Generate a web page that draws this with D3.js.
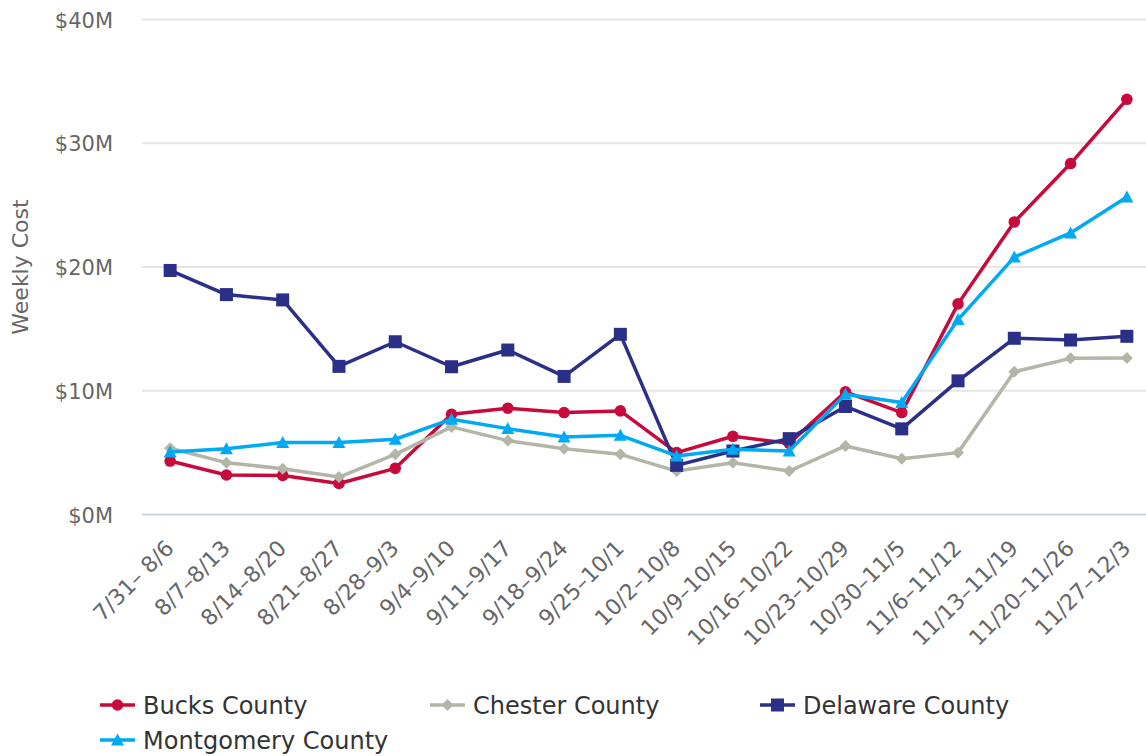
<!DOCTYPE html>
<html>
<head>
<meta charset="utf-8">
<script src="https://cdn.jsdelivr.net/npm/d3@7"></script>
<style>
  html, body { margin: 0; padding: 0; background: #fff; }
  svg { display: block; font-family: "DejaVu Sans", sans-serif; }
</style>
</head>
<body>
<svg id="chart" width="1146" height="756"></svg>
<script>
const categories = ["7/31– 8/6","8/7–8/13","8/14–8/20","8/21–8/27","8/28–9/3","9/4–9/10","9/11–9/17","9/18–9/24","9/25–10/1","10/2–10/8","10/9–10/15","10/16–10/22","10/23–10/29","10/30–11/5","11/6–11/12","11/13–11/19","11/20–11/26","11/27–12/3"];
const bucks      = [4.32,3.19,3.16,2.51,3.73,8.10,8.59,8.24,8.37,5.00,6.32,5.75,9.91,8.24,17.02,23.64,28.36,33.55];
const chester    = [5.35,4.19,3.70,3.03,4.86,7.08,5.97,5.32,4.86,3.51,4.19,3.51,5.54,4.51,5.00,11.53,12.62,12.65];
const delaware   = [19.72,17.77,17.34,11.97,13.96,11.94,13.29,11.16,14.56,3.97,5.13,6.13,8.73,6.92,10.80,14.24,14.10,14.40];
const montgomery = [5.05,5.32,5.81,5.81,6.08,7.70,6.94,6.27,6.40,4.73,5.27,5.13,9.72,9.05,15.75,20.80,22.75,25.66];
const yTicks = [0,10,20,30,40];
const seriesNames = ["Bucks County","Chester County","Delaware County","Montgomery County"];
const seriesColors = ["#c8093b","#b2b6a6","#2a2f88","#00a9f4"];
const seriesSymbols = ["circle","diamond","square","triangle"];
const seriesData = [bucks, chester, delaware, montgomery];

const svg = d3.select("#chart");
const pLeft = 142, pRight = 1155, pTop = 19.5, pBottom = 514.5;

const x = d3.scaleBand().domain(categories).range([pLeft, pRight]);
const xc = c => x(c) + x.bandwidth() / 2;
const y = d3.scaleLinear().domain([0, 40]).range([pBottom, pTop]);

// gridlines
svg.append("g").selectAll("line").data(yTicks.filter(t => t > 0)).join("line")
  .attr("x1", pLeft).attr("x2", pRight)
  .attr("y1", d => y(d)).attr("y2", d => y(d))
  .attr("stroke", "#e6e6e6").attr("stroke-width", 2);

// y axis labels
const yAxis = d3.axisLeft(y).tickValues(yTicks).tickSize(0).tickPadding(0)
  .tickFormat(d => "$" + d + "M");
const ya = svg.append("g").attr("transform", `translate(${113},0)`).call(yAxis);
ya.select(".domain").remove();
ya.selectAll("text").attr("fill", "#666").style("font-size", "21px")
  .style("font-family", "DejaVu Sans, sans-serif").attr("dy", "0.36em");

// x axis line
svg.append("line").attr("x1", pLeft).attr("x2", pRight)
  .attr("y1", pBottom).attr("y2", pBottom)
  .attr("stroke", "#ccd6eb").attr("stroke-width", 2);

// x labels
const xAxis = d3.axisBottom(x).tickSize(0).tickPadding(0);
const xa = svg.append("g").attr("transform", `translate(0,${pBottom})`).call(xAxis);
xa.select(".domain").remove();
xa.selectAll("text")
  .attr("fill", "#666").style("font-size", "22px")
  .style("font-family", "DejaVu Sans, sans-serif")
  .attr("text-anchor", "end")
  .attr("dy", null).attr("y", null)
  .attr("transform", "translate(5,35) rotate(-45)");

// y axis title
svg.append("text")
  .attr("transform", `translate(28,${(pTop + pBottom) / 2}) rotate(-90)`)
  .attr("text-anchor", "middle")
  .attr("fill", "#666").style("font-size", "22px")
  .text("Weekly Cost");

function drawSymbol(g, type, cx, cy, color) {
  if (type === "circle") {
    g.append("circle").attr("cx", cx).attr("cy", cy).attr("r", 5.8).attr("fill", color);
  } else if (type === "square") {
    g.append("rect").attr("x", cx - 6.5).attr("y", cy - 6.5).attr("width", 13).attr("height", 13).attr("fill", color);
  } else if (type === "diamond") {
    g.append("path").attr("d", `M${cx},${cy-6}L${cx+6},${cy}L${cx},${cy+6}L${cx-6},${cy}Z`).attr("fill", color);
  } else if (type === "triangle") {
    g.append("path").attr("d", `M${cx},${cy-6.5}L${cx+6.5},${cy+5.5}L${cx-6.5},${cy+5.5}Z`).attr("fill", color);
  }
}

const line = d3.line().x((d, i) => xc(categories[i])).y(d => y(d));
seriesData.forEach((data, s) => {
  const g = svg.append("g");
  g.append("path").datum(data).attr("d", line)
    .attr("fill", "none").attr("stroke", seriesColors[s])
    .attr("stroke-width", 3.5).attr("stroke-linejoin", "round").attr("stroke-linecap", "round");
  data.forEach((v, i) => drawSymbol(g, seriesSymbols[s], xc(categories[i]), y(v), seriesColors[s]));
});

// legend
const legendPos = [[100, 705], [430, 705], [760, 705], [100, 740]];
seriesNames.forEach((name, s) => {
  const [lx, ly] = legendPos[s];
  const g = svg.append("g");
  g.append("line").attr("x1", lx).attr("x2", lx + 35).attr("y1", ly).attr("y2", ly)
    .attr("stroke", seriesColors[s]).attr("stroke-width", 3.5);
  drawSymbol(g, seriesSymbols[s], lx + 17.5, ly, seriesColors[s]);
  g.append("text").attr("x", lx + 43).attr("y", ly).attr("dy", "0.36em")
    .attr("fill", "#333").style("font-size", "24px").text(name);
});
</script>
</body>
</html>
